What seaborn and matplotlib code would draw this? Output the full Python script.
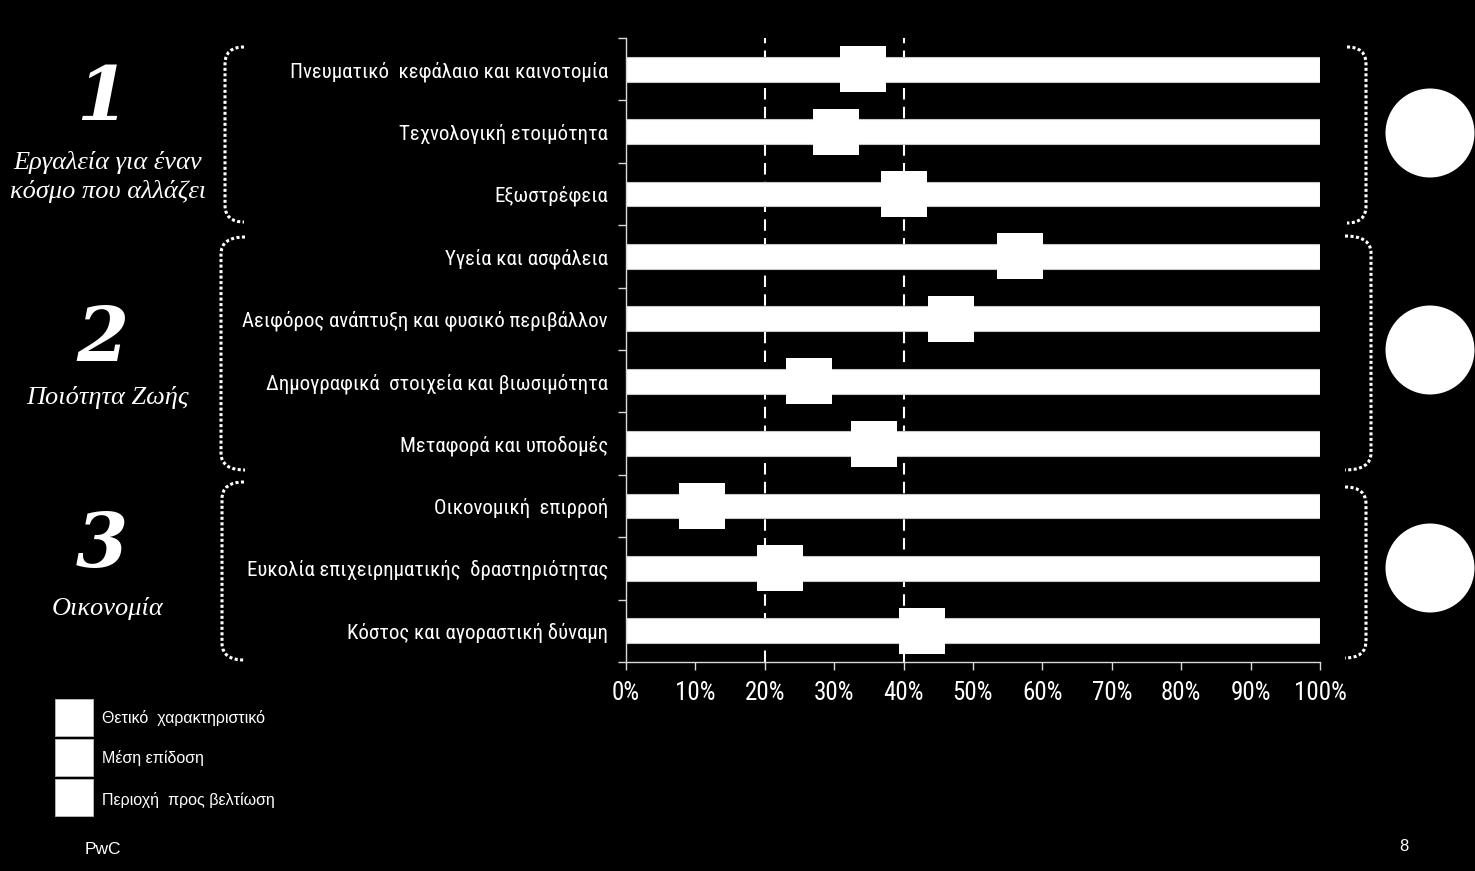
import numpy as np
import pandas as pd
import matplotlib
matplotlib.use("Agg")
import matplotlib.pyplot as plt
import seaborn as sns
from matplotlib.path import Path
from matplotlib.patches import PathPatch, Ellipse, Rectangle
from matplotlib import font_manager

# ---------------- data ----------------
categories = [
    "Πνευματικό  κεφάλαιο και καινοτομία",
    "Τεχνολογική ετοιμότητα",
    "Εξωστρέφεια",
    "Υγεία και ασφάλεια",
    "Αειφόρος ανάπτυξη και φυσικό περιβάλλον",
    "Δημογραφικά  στοιχεία και βιωσιμότητα",
    "Μεταφορά και υποδομές",
    "Οικονομική  επιρροή",
    "Ευκολία επιχειρηματικής  δραστηριότητας",
    "Κόστος και αγοραστική δύναμη",
]
scores = [0.342, 0.303, 0.401, 0.568, 0.468, 0.264, 0.358, 0.109, 0.222, 0.427]
full_range = [1.0] * len(categories)
reference_lines = [0.20, 0.40]
x_ticks = [0.0, 0.1, 0.2, 0.3, 0.4, 0.5, 0.6, 0.7, 0.8, 0.9, 1.0]
x_tick_labels = ["0%", "10%", "20%", "30%", "40%", "50%", "60%", "70%", "80%", "90%", "100%"]

group_numbers = ["1", "2", "3"]
group_names = ["Εργαλεία για έναν\nκόσμο που αλλάζει", "Ποιότητα Ζωής", "Οικονομία"]
legend_labels = ["Θετικό  χαρακτηριστικό", "Μέση επίδοση", "Περιοχή  προς βελτίωση"]
footer_left = "PwC"
footer_right = "8"

df = pd.DataFrame({"cat": categories, "score": scores, "full": full_range})

# ---------------- fonts ----------------
available = {f.name for f in font_manager.fontManager.ttflist}
narrow_candidates = ["Liberation Sans Narrow", "Roboto Condensed", "DejaVu Sans Condensed",
                     "Open Sans Condensed"]
narrow = [n for n in narrow_candidates if n in available]
has_narrow = len(narrow) > 0
label_family = (narrow[:1] if has_narrow else []) + ["Liberation Sans", "DejaVu Sans"]
if has_narrow and narrow[0] == "Liberation Sans Narrow":
    label_size, tick_size = 17, 18
elif has_narrow:
    label_size, tick_size = 15, 18
else:
    label_size, tick_size = 14, 15

# ---------------- style ----------------
sns.set_theme(style="white")
plt.rcParams["font.family"] = label_family

W, H = 1475, 871
fig = plt.figure(figsize=(W / 100, H / 100), dpi=100, facecolor="black")

def fx(px):
    return px / W

def fy(py):
    return 1 - py / H

ax = fig.add_axes([fx(626), fy(662), fx(1320) - fx(626), fy(38) - fy(662)])
ax.set_facecolor("black")

sns.barplot(data=df, x="full", y="cat", orient="h", color="white", saturation=1,
            width=0.4, edgecolor="#c8c8c8", linewidth=0.8, ax=ax, zorder=2)
sns.stripplot(data=df, x="score", y="cat", orient="h", jitter=False, marker="s",
              size=33, color="white", linewidth=0, ax=ax, zorder=5)

for xv in reference_lines:
    ax.axvline(xv, color="white", lw=1.5, dashes=(5.5, 3.5), zorder=1)

ax.set_xlim(0, 1)
ax.set_ylim(len(categories) - 0.5, -0.5)
ax.set_xlabel("")
ax.set_ylabel("")

for s in ["top", "right"]:
    ax.spines[s].set_visible(False)
for s in ["left", "bottom"]:
    ax.spines[s].set_color("#d9d9d9")
    ax.spines[s].set_linewidth(1.0)

ax.set_xticks(x_ticks)
ax.set_xticklabels(x_tick_labels)
ax.tick_params(axis="x", which="major", colors="#d9d9d9", labelcolor="white",
               labelsize=tick_size, length=6, width=1, pad=8, direction="out", bottom=True)
ax.tick_params(axis="y", which="major", length=0, labelcolor="white", labelsize=label_size, pad=13)
ax.set_yticks(np.arange(-0.5, len(categories), 1.0), minor=True)
ax.tick_params(axis="y", which="minor", length=6, width=1, color="#d9d9d9", left=True,
               direction="out")

# ---------------- braces ----------------
def brace(xv, xe, yt, yb, r=17):
    verts = [(xe, yt), (xv, yt), (xv, yt + r),
             (xv, yb - r), (xv, yb), (xe, yb)]
    codes = [Path.MOVETO, Path.CURVE3, Path.CURVE3, Path.LINETO, Path.CURVE3, Path.CURVE3]
    verts = [(fx(a), fy(b)) for a, b in verts]
    p = PathPatch(Path(verts, codes), fill=False, edgecolor="white", lw=2.2,
                  linestyle=(0, (1, 0.8)), capstyle="butt", transform=fig.transFigure)
    fig.add_artist(p)

brace(225, 244, 47, 222)
brace(221, 245, 237, 470)
brace(222, 244, 482, 660)
brace(1366, 1347, 47, 223)
brace(1371, 1345, 236, 470)
brace(1366, 1345, 487, 658)

for cy in [133, 350, 568]:
    fig.add_artist(Ellipse((fx(1430), fy(cy)), 89 / W, 89 / H, facecolor="white",
                           edgecolor="none", transform=fig.transFigure))

# ---------------- group labels ----------------
num_y = [99, 340, 546]
name_y = [177, 397, 609]
for num, name, ny, ty in zip(group_numbers, group_names, num_y, name_y):
    fig.text(fx(102), fy(ny), num, ha="center", va="center", color="white",
             fontsize=54, fontstyle="italic", fontweight="bold", family=["DejaVu Serif"])
    fig.text(fx(108), fy(ty), name, ha="center", va="center", color="white",
             fontsize=19, fontstyle="italic", family=["Liberation Serif", "DejaVu Serif"],
             linespacing=1.3)

# ---------------- legend ----------------
box_y = [699, 739, 779]
text_y = [718, 758, 800]
for by, ty, lab in zip(box_y, text_y, legend_labels):
    fig.add_artist(Rectangle((fx(55), fy(by + 37)), 38 / W, 37 / H, facecolor="white",
                             edgecolor="#bbbbbb", lw=0.6, transform=fig.transFigure))
    fig.text(fx(102), fy(ty), lab, ha="left", va="center", color="white", fontsize=11.5,
             family=["Liberation Sans", "DejaVu Sans"])

fig.text(fx(85), fy(849), footer_left, ha="left", va="center", color="white", fontsize=12.5,
         family=["Liberation Sans", "DejaVu Sans"])
fig.text(fx(1404), fy(846), footer_right, ha="center", va="center", color="white", fontsize=12,
         family=["Liberation Sans", "DejaVu Sans"])

fig.savefig("out.png", dpi=100, facecolor="black")
